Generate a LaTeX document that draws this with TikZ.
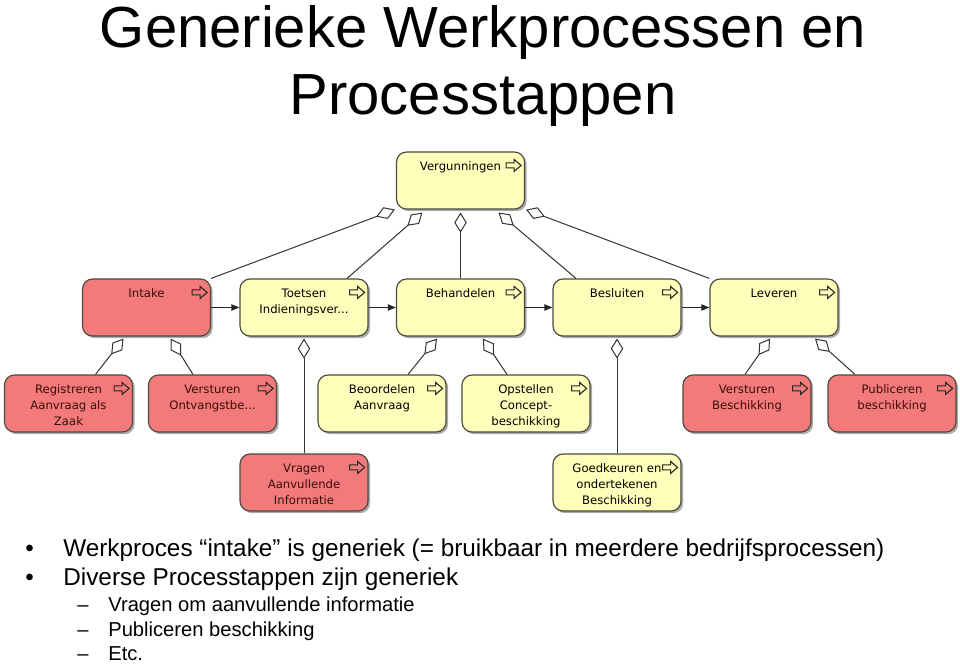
\documentclass[tikz,border=0pt]{standalone}
\usepackage{fontspec}
\setmainfont{Liberation Sans}
\newfontfamily\boxfont{DejaVu Sans}
\usetikzlibrary{arrows.meta,calc,shadows}
\definecolor{procyellow}{HTML}{FFFFBB}
\definecolor{procred}{HTML}{F27A7A}
\definecolor{boxline}{HTML}{4A4A40}
\definecolor{redtext}{HTML}{3C0C0C}
\newcommand{\boxtext}[1]{\parbox[t][22.4pt][t]{72pt}{\centering #1}}
\tikzset{
  proc/.style={rectangle,rounded corners=6pt,draw=boxline,line width=0.7pt,
    minimum width=76.8pt,minimum height=34.2pt,inner sep=0pt,
    drop shadow={shadow xshift=1.3pt,shadow yshift=-1.3pt,fill=black!55,opacity=.6},
    font=\boxfont\fontsize{7}{9.6}\selectfont},
  yproc/.style={proc,fill=procyellow,text=black},
  rproc/.style={proc,fill=procred,text=redtext},
  agg/.style={draw=black!80,line width=0.6pt,-{Diamond[open,length=12pt,width=7.5pt]}},
  flow/.style={draw=black!85,line width=0.6pt,-{Triangle[length=4.8pt,width=3.8pt]}},
  icon/.style={draw=black!85,line width=0.65pt,line join=miter},
  txt/.style={inner sep=0pt,anchor=base west}
}
\begin{document}
\begin{tikzpicture}[x=0.6pt,y=-0.6pt]
\useasboundingbox (0,0) rectangle (960,664);
\node[inner sep=0pt,anchor=base,font=\fontsize{34.8}{40}\selectfont] (title1) at (483,47) {Generieke Werkprocessen en};
\node[inner sep=0pt,anchor=base,font=\fontsize{34.8}{40}\selectfont] (title2) at (483,114) {Processtappen};
\node[yproc] (verg) at (460.5,180.5) {\boxtext{Vergunningen}};
\node[rproc] (intake) at (146.5,307.5) {\boxtext{Intake}};
\node[yproc] (toetsen) at (304,307.5) {\boxtext{Toetsen\\Indieningsver...}};
\node[yproc] (behandelen) at (460.5,307.5) {\boxtext{Behandelen}};
\node[yproc] (besluiten) at (617,307.5) {\boxtext{Besluiten}};
\node[yproc] (leveren) at (774,307.5) {\boxtext{Leveren}};
\node[rproc] (reg) at (68.5,403.5) {\boxtext{Registreren\\Aanvraag als\\Zaak}};
\node[rproc] (ontv) at (212.5,403.5) {\boxtext{Versturen\\Ontvangstbe...}};
\node[yproc] (beoord) at (382,403.5) {\boxtext{Beoordelen\\Aanvraag}};
\node[yproc] (opst) at (526,403.5) {\boxtext{Opstellen\\Concept-\\beschikking}};
\node[rproc] (verstb) at (747,403.5) {\boxtext{Versturen\\Beschikking}};
\node[rproc] (publ) at (892,403.5) {\boxtext{Publiceren\\beschikking}};
\node[rproc] (vragen) at (304,482.5) {\boxtext{Vragen\\Aanvullende\\Informatie}};
\node[yproc] (goedk) at (617,482.5) {\boxtext{Goedkeuren en\\ondertekenen\\Beschikking}};
\foreach \n in {verg,intake,toetsen,behandelen,besluiten,leveren,reg,ontv,beoord,opst,verstb,publ,vragen,goedk}
  \draw[icon] ($(\n.north east)+(-19,11.5)$) -- ++(8,0) -- ++(0,-3.5) -- ++(7,6) -- ++(-7,6) -- ++(0,-3.5) -- ++(-8,0) -- cycle;
\draw[agg] (intake.north east) -- ($(verg.south west)+(-1,0)$);
\draw[agg] ($(toetsen.north)+(43,0)$) -- ($(verg.south)+(-38,3)$);
\draw[agg] (behandelen.north) -- ($(verg.south)+(0,3)$);
\draw[agg] ($(besluiten.north)+(-41,0)$) -- ($(verg.south)+(38,3)$);
\draw[agg] (leveren.north west) -- ($(verg.south east)+(1,0)$);
\draw[agg] ($(reg.north)+(27,0)$) -- ($(intake.south)+(-23,2)$);
\draw[agg] ($(ontv.north)+(-19.5,0)$) -- ($(intake.south)+(24,2)$);
\draw[agg] (vragen.north) -- ($(toetsen.south)+(0,2)$);
\draw[agg] ($(beoord.north)+(26,0)$) -- ($(behandelen.south)+(-23.5,2)$);
\draw[agg] ($(opst.north)+(-19,0)$) -- ($(behandelen.south)+(22.5,2)$);
\draw[agg] (goedk.north) -- ($(besluiten.south)+(0,2)$);
\draw[agg] ($(verstb.north)+(-2,0)$) -- ($(leveren.south)+(-4,2)$);
\draw[agg] ($(publ.north)+(-37,0)$) -- ($(leveren.south)+(41,2)$);
\draw[flow] (intake.east) -- (toetsen.west);
\draw[flow] (toetsen.east) -- (behandelen.west);
\draw[flow] (behandelen.east) -- (besluiten.west);
\draw[flow] (besluiten.east) -- (leveren.west);
\begin{scope}[font=\fontsize{14.6}{17}\selectfont]
\node[txt] (b1) at (25,556) {•};
\node[txt] (l1) at (63,556) {Werkproces “intake” is generiek (= bruikbaar in meerdere bedrijfsprocessen)};
\node[txt] (b2) at (25,585) {•};
\node[txt] (l2) at (63,585) {Diverse Processtappen zijn generiek};
\end{scope}
\begin{scope}[font=\fontsize{12.1}{14}\selectfont]
\node[txt] (d1) at (77,611.5) {–};
\node[txt] (s1) at (108,611.5) {Vragen om aanvullende informatie};
\node[txt] (d2) at (77,636.5) {–};
\node[txt] (s2) at (108,636.5) {Publiceren beschikking};
\node[txt] (d3) at (77,660) {–};
\node[txt] (s3) at (108,660) {Etc.};
\end{scope}
\end{tikzpicture}
\end{document}
